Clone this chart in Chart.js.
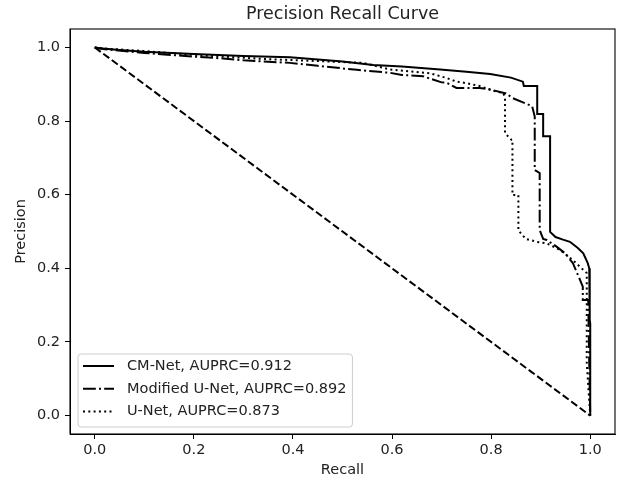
<!DOCTYPE html>
<html><head><meta charset="utf-8">
<script src="https://cdn.jsdelivr.net/npm/chart.js@4/dist/chart.umd.min.js"></script>
<style>html,body{margin:0;padding:0;background:#fff}#wrap{width:617px;height:483px;position:relative}</style>
</head><body><div id="wrap"><canvas id="c"></canvas></div>
<script>
const chartTitle = 'Precision Recall Curve';
const xTicks = [0, 0.2, 0.4, 0.6, 0.8, 1.0];
const yTicks = [0, 0.2, 0.4, 0.6, 0.8, 1.0];
const seriesLabels = ['CM-Net, AUPRC=0.912', 'Modified U-Net, AUPRC=0.892', 'U-Net, AUPRC=0.873'];

const cmRecall    = [0, 0.01, 0.05, 0.1, 0.2, 0.3, 0.394, 0.5, 0.562, 0.62, 0.697, 0.75, 0.798, 0.84, 0.864, 0.866, 0.893, 0.893, 0.905, 0.905, 0.919, 0.919, 0.93, 0.945, 0.959, 0.975, 0.986, 0.995, 0.998, 0.999, 1.0, 1.0];
const cmPrecision = [1.0, 0.998, 0.993, 0.988, 0.982, 0.977, 0.973, 0.962, 0.952, 0.948, 0.940, 0.934, 0.928, 0.918, 0.907, 0.895, 0.895, 0.819, 0.819, 0.759, 0.759, 0.499, 0.485, 0.478, 0.472, 0.455, 0.441, 0.414, 0.400, 0.260, 0.250, 0.0];

const muRecall    = [0, 0.02, 0.1, 0.2, 0.259, 0.3, 0.394, 0.45, 0.529, 0.596, 0.62, 0.662, 0.70, 0.71, 0.73, 0.777, 0.80, 0.83, 0.844, 0.878, 0.883, 0.888, 0.888, 0.898, 0.898, 0.905, 0.912, 0.932, 0.95, 0.965, 0.979, 0.985, 0.985, 0.996, 0.998, 1.0];
const muPrecision = [1.0, 0.995, 0.985, 0.975, 0.970, 0.965, 0.958, 0.950, 0.939, 0.931, 0.925, 0.922, 0.905, 0.904, 0.890, 0.890, 0.885, 0.875, 0.862, 0.843, 0.839, 0.812, 0.667, 0.659, 0.504, 0.480, 0.477, 0.459, 0.440, 0.414, 0.370, 0.350, 0.314, 0.314, 0.143, 0.0];

const unRecall    = [0, 0.02, 0.1, 0.2, 0.259, 0.35, 0.45, 0.541, 0.596, 0.676, 0.71, 0.73, 0.75, 0.777, 0.81, 0.824, 0.828, 0.828, 0.841, 0.843, 0.843, 0.855, 0.855, 0.87, 0.892, 0.912, 0.939, 0.965, 0.993, 0.993, 1.0];
const unPrecision = [1.0, 0.997, 0.990, 0.980, 0.975, 0.968, 0.963, 0.958, 0.940, 0.930, 0.917, 0.907, 0.903, 0.895, 0.880, 0.876, 0.866, 0.767, 0.749, 0.749, 0.599, 0.599, 0.503, 0.480, 0.472, 0.468, 0.450, 0.422, 0.387, 0.143, 0.0];

const baseRecall    = [0, 1];
const basePrecision = [1, 0];

const toPts = (xs, ys) => xs.map((x, i) => ({x: x, y: ys[i]}));

const FONT = '"DejaVu Sans", "Liberation Sans", sans-serif';
const FS = 14.5;

const frameAndTitle = {
  id: 'frameAndTitle',
  afterDraw(chart) {
    const {ctx, chartArea: a} = chart;
    ctx.save();
    ctx.strokeStyle = '#000';
    ctx.lineWidth = 1.1;
    ctx.strokeRect(a.left, a.top, a.right - a.left, a.bottom - a.top);
    ctx.fillStyle = '#222';
    ctx.font = '17.5px ' + FONT;
    ctx.textAlign = 'center';
    ctx.textBaseline = 'middle';
    ctx.fillText(chartTitle, (a.left + a.right) / 2, 14.5);
    ctx.restore();
  }
};

const insideLegend = {
  id: 'insideLegend',
  afterDraw(chart) {
    const ctx = chart.ctx, a = chart.chartArea;
    const items = chart.data.datasets.filter(d => d.label);
    ctx.save();
    ctx.font = FS + 'px ' + FONT;
    const textW = Math.max(...items.map(d => ctx.measureText(d.label).width));
    const left = a.left + 8, top = a.bottom - 80, bottom = a.bottom - 7;
    const textX = left + 49;
    const right = textX + textW + 6;
    ctx.beginPath();
    if (ctx.roundRect) ctx.roundRect(left, top, right - left, bottom - top, 3);
    else ctx.rect(left, top, right - left, bottom - top);
    ctx.fillStyle = 'rgba(255,255,255,0.8)';
    ctx.fill();
    ctx.strokeStyle = '#cccccc';
    ctx.lineWidth = 1;
    ctx.stroke();
    items.forEach((d, i) => {
      const y = top + 12 + i * 22.8;
      ctx.beginPath();
      ctx.setLineDash(d.borderDash || []);
      ctx.strokeStyle = '#000';
      ctx.lineWidth = 2;
      ctx.moveTo(left + 5, y);
      ctx.lineTo(left + 36, y);
      ctx.stroke();
      ctx.setLineDash([]);
      ctx.fillStyle = '#222';
      ctx.textBaseline = 'middle';
      ctx.textAlign = 'left';
      ctx.fillText(d.label, textX, y);
    });
    ctx.restore();
  }
};

const lineDs = (label, pts, dash) => ({
  label: label, data: pts, borderColor: '#000', borderWidth: 2, borderDash: dash,
  pointRadius: 0, pointHoverRadius: 0, tension: 0, fill: false
});

new Chart(document.getElementById('c'), {
  type: 'line',
  data: {
    datasets: [
      lineDs(seriesLabels[0], toPts(cmRecall, cmPrecision), []),
      lineDs(seriesLabels[1], toPts(muRecall, muPrecision), [12.8, 3.2, 2, 3.2]),
      lineDs(seriesLabels[2], toPts(unRecall, unPrecision), [2, 3.3]),
      lineDs('', toPts(baseRecall, basePrecision), [7.4, 3.2])
    ]
  },
  options: {
    responsive: true, maintainAspectRatio: false, animation: false,
    layout: {padding: {right: 2, top: 29}},
    plugins: {
      legend: {display: false},
      tooltip: {enabled: false},
      title: {display: false}
    },
    scales: {
      x: {
        type: 'linear', min: -0.05, max: 1.05,
        afterBuildTicks: s => { s.ticks = xTicks.map(v => ({value: v})); },
        afterFit: s => { s.height = 49; },
        ticks: {color: '#222', font: {family: FONT, size: FS}, padding: 3, callback: v => v.toFixed(1)},
        grid: {display: true, drawOnChartArea: false, drawTicks: true, tickLength: 5, color: '#000'},
        border: {display: true, color: '#000'},
        title: {display: true, text: 'Recall', color: '#222', font: {family: FONT, size: FS}, padding: {top: 4, bottom: 4}}
      },
      y: {
        type: 'linear', min: -0.05, max: 1.05,
        afterBuildTicks: s => { s.ticks = yTicks.map(v => ({value: v})); },
        afterFit: s => { s.width = 70; },
        ticks: {color: '#222', font: {family: FONT, size: FS}, padding: 5, callback: v => v.toFixed(1)},
        grid: {display: true, drawOnChartArea: false, drawTicks: true, tickLength: 5, color: '#000'},
        border: {display: true, color: '#000'},
        title: {display: true, text: 'Precision', color: '#222', font: {family: FONT, size: FS}, padding: {top: 13, bottom: 4}}
      }
    }
  },
  plugins: [frameAndTitle, insideLegend]
});
</script>
</body></html>
